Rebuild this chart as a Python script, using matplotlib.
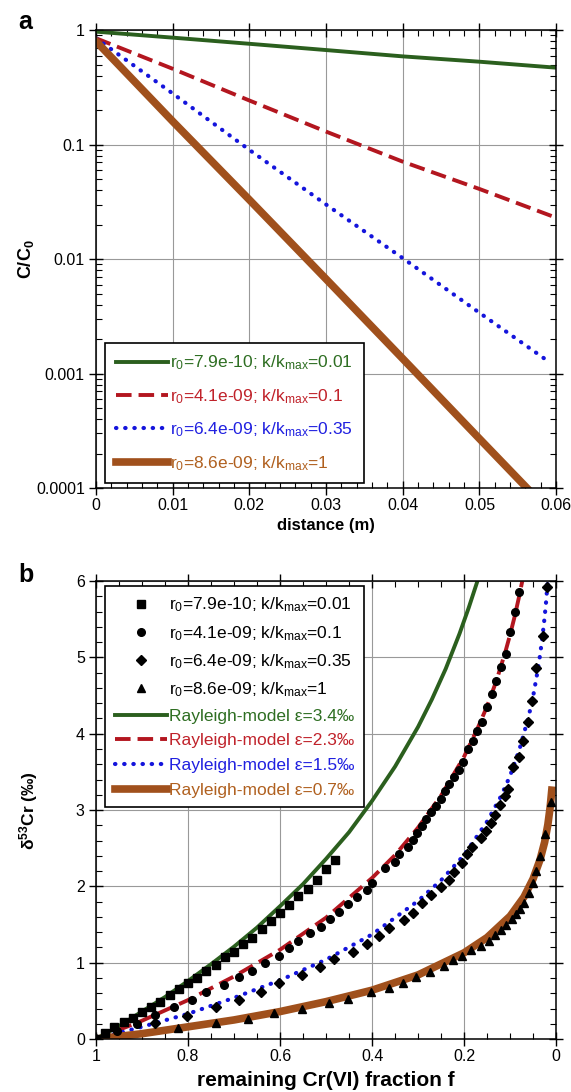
import matplotlib
matplotlib.use('Agg')
import matplotlib.pyplot as plt
from matplotlib.ticker import MultipleLocator, LogLocator, NullFormatter

plt.rcParams['font.family'] = ['Liberation Sans', 'DejaVu Sans']
plt.rcParams['mathtext.default'] = 'regular'

# ---- panel a: C/C0 vs distance (straight lines on log axis)
dist = [0, 0.01, 0.02, 0.03, 0.04, 0.05, 0.06]
c_green = [0.97, 0.86, 0.76, 0.67, 0.59, 0.53, 0.47]
c_red = [0.85, 0.46, 0.243, 0.13, 0.071, 0.041, 0.023]
dist_blue = [0, 0.01, 0.02, 0.03, 0.04, 0.05, 0.0587]
c_blue = [0.85, 0.28, 0.09, 0.03, 0.0102, 0.0034, 0.00132]
dist_brown = [0, 0.01, 0.02, 0.03, 0.04, 0.05, 0.0562]
c_brown = [0.8, 0.16, 0.033, 0.0067, 0.00135, 0.00027, 0.0001]

labels_a = [r'r$_0$=7.9e-10; k/k$_{max}$=0.01',
            r'r$_0$=4.1e-09; k/k$_{max}$=0.1',
            r'r$_0$=6.4e-09; k/k$_{max}$=0.35',
            r'r$_0$=8.6e-09; k/k$_{max}$=1']

# ---- panel b: d53Cr vs remaining fraction
f_sq = [1.0, 0.98, 0.96, 0.94, 0.92, 0.90, 0.88, 0.86, 0.84, 0.82, 0.80, 0.78, 0.76, 0.74,
        0.72, 0.70, 0.68, 0.66, 0.64, 0.62, 0.60, 0.58, 0.56, 0.54, 0.52, 0.50, 0.48]
d_sq = [0, 0.08, 0.16, 0.22, 0.28, 0.35, 0.42, 0.49, 0.58, 0.655, 0.73, 0.80, 0.89, 0.97,
        1.07, 1.145, 1.24, 1.33, 1.44, 1.54, 1.65, 1.76, 1.87, 1.97, 2.08, 2.23, 2.35]

f_ci = [1.0, 0.955, 0.910, 0.871, 0.831, 0.791, 0.760, 0.721, 0.690, 0.660, 0.632, 0.603,
        0.581, 0.561, 0.534, 0.512, 0.492, 0.472, 0.453, 0.432, 0.410, 0.400, 0.371, 0.350,
        0.342, 0.321, 0.311, 0.302, 0.292, 0.282, 0.271, 0.260, 0.251, 0.242, 0.233, 0.222,
        0.211, 0.203, 0.191, 0.181, 0.173, 0.162, 0.150, 0.140, 0.130, 0.120, 0.110, 0.101,
        0.090, 0.081]
d_ci = [0, 0.10, 0.197, 0.315, 0.415, 0.51, 0.61, 0.71, 0.81, 0.895, 1.00, 1.09,
        1.19, 1.29, 1.385, 1.47, 1.57, 1.67, 1.765, 1.865, 1.95, 2.05, 2.24, 2.32,
        2.43, 2.52, 2.61, 2.70, 2.79, 2.88, 2.97, 3.05, 3.15, 3.25, 3.34, 3.43,
        3.53, 3.63, 3.80, 3.91, 4.03, 4.15, 4.35, 4.52, 4.69, 4.88, 5.05, 5.33,
        5.59, 5.86]

f_di = [1.0, 0.871, 0.802, 0.740, 0.690, 0.642, 0.603, 0.552, 0.513, 0.483, 0.441, 0.410,
        0.384, 0.364, 0.331, 0.311, 0.292, 0.271, 0.251, 0.233, 0.223, 0.205, 0.193, 0.182,
        0.164, 0.153, 0.142, 0.133, 0.123, 0.111, 0.104, 0.094, 0.081, 0.071, 0.061, 0.053,
        0.043, 0.029, 0.020]
d_di = [0, 0.205, 0.30, 0.415, 0.51, 0.62, 0.73, 0.84, 0.94, 1.045, 1.145, 1.245,
        1.35, 1.45, 1.56, 1.655, 1.78, 1.89, 1.99, 2.08, 2.19, 2.30, 2.42, 2.52,
        2.63, 2.73, 2.83, 2.94, 3.07, 3.18, 3.27, 3.57, 3.70, 3.90, 4.15, 4.43,
        4.86, 5.28, 5.92]

f_tr = [1.0, 0.821, 0.740, 0.670, 0.612, 0.552, 0.494, 0.453, 0.403, 0.363, 0.333, 0.304,
        0.275, 0.244, 0.224, 0.204, 0.184, 0.164, 0.147, 0.132, 0.120, 0.108, 0.097, 0.088,
        0.079, 0.069, 0.060, 0.051, 0.043, 0.035, 0.025, 0.011]
d_tr = [0, 0.14, 0.205, 0.26, 0.34, 0.39, 0.47, 0.53, 0.61, 0.67, 0.74, 0.81,
        0.88, 0.96, 1.03, 1.09, 1.16, 1.22, 1.29, 1.36, 1.43, 1.50, 1.57, 1.64,
        1.70, 1.78, 1.91, 2.05, 2.20, 2.40, 2.69, 3.10]

# Rayleigh model curves
f_g = [1.0, 0.95, 0.9, 0.85, 0.8, 0.75, 0.7, 0.65, 0.6, 0.55, 0.5, 0.45, 0.4, 0.35, 0.3,
       0.27, 0.24, 0.21, 0.19, 0.171]
d_g = [0, 0.17, 0.36, 0.55, 0.76, 0.98, 1.21, 1.46, 1.74, 2.03, 2.36, 2.71, 3.12, 3.57, 4.09,
       4.45, 4.85, 5.31, 5.65, 6.0]
f_r = [1.0, 0.9, 0.8, 0.7, 0.6, 0.5, 0.4, 0.35, 0.3, 0.25, 0.2, 0.17, 0.15, 0.13, 0.11,
       0.1, 0.09, 0.08, 0.0736]
d_r = [0, 0.24, 0.51, 0.82, 1.17, 1.59, 2.11, 2.41, 2.77, 3.19, 3.70, 4.08, 4.36, 4.69, 5.08,
       5.30, 5.54, 5.81, 6.0]
f_b = [1.0, 0.9, 0.8, 0.7, 0.6, 0.5, 0.4, 0.3, 0.25, 0.2, 0.15, 0.12, 0.1, 0.08, 0.06,
       0.05, 0.04, 0.035, 0.03, 0.025, 0.022, 0.0183]
d_b = [0, 0.16, 0.33, 0.54, 0.77, 1.04, 1.37, 1.81, 2.08, 2.41, 2.85, 3.18, 3.45, 3.79, 4.22,
       4.49, 4.83, 5.03, 5.26, 5.53, 5.72, 6.0]
f_o = [1.0, 0.9, 0.8, 0.7, 0.6, 0.5, 0.4, 0.3, 0.2, 0.15, 0.1, 0.07, 0.05, 0.035, 0.025,
       0.018, 0.013, 0.0095]
d_o = [0, 0.07, 0.16, 0.25, 0.36, 0.49, 0.64, 0.84, 1.13, 1.33, 1.61, 1.86, 2.10, 2.35, 2.58,
       2.81, 3.04, 3.26]

labels_model = [u'Rayleigh-model \u03b5=3.4\u2030', u'Rayleigh-model \u03b5=2.3\u2030',
                u'Rayleigh-model \u03b5=1.5\u2030', u'Rayleigh-model \u03b5=0.7\u2030']

col_line = ['#2b5f1e', '#b3161f', '#1414dc', '#a0501c']
col_text = ['#2e6e22', '#c0222a', '#2020e0', '#b0601f']


def style_axes(ax):
	ax.grid(True, which='major', color='0.6', lw=0.8)
	ax.set_axisbelow(True)
	ax.tick_params(which='major', direction='inout', length=10, width=1,
	               top=True, right=True, labelsize=11.5)
	ax.tick_params(axis='x', which='major', pad=2)
	ax.tick_params(axis='y', which='major', pad=3)
	ax.tick_params(which='minor', direction='in', length=4, width=0.8,
	               top=True, right=True)
	for s in ax.spines.values():
		s.set_linewidth(1.1)


fig = plt.figure(figsize=(5.71, 10.92), dpi=100)

# ---------------- panel a
ax = fig.add_axes([0.168, 0.553, 0.806, 0.4194])
ax.plot(dist, c_green, color=col_line[0], lw=2.8, label=labels_a[0])
ax.plot(dist, c_red, color=col_line[1], lw=2.8, dashes=(4, 1.8), label=labels_a[1])
ax.plot(dist_blue, c_blue, color=col_line[2], lw=3, dashes=(0.1, 2.1),
        dash_capstyle='round', label=labels_a[2])
ax.plot(dist_brown, c_brown, color=col_line[3], lw=5.5, label=labels_a[3])
ax.set_yscale('log')
ax.set_xlim(0, 0.06)
ax.set_ylim(1e-4, 1)
ax.set_xticks([0, 0.01, 0.02, 0.03, 0.04, 0.05, 0.06])
ax.set_xticklabels(['0', '0.01', '0.02', '0.03', '0.04', '0.05', '0.06'])
ax.xaxis.set_minor_locator(MultipleLocator(0.002))
ax.set_yticks([1e-4, 1e-3, 1e-2, 0.1, 1])
ax.set_yticklabels(['0.0001', '0.001', '0.01', '0.1', '1'])
ax.yaxis.set_minor_locator(LogLocator(base=10, subs=range(2, 10)))
ax.yaxis.set_minor_formatter(NullFormatter())
style_axes(ax)
ax.set_xlabel('distance (m)', fontsize=12, fontweight='bold', labelpad=4)
ax.set_ylabel('C/C$_0$', fontsize=13, fontweight='bold')
ax.yaxis.set_label_coords(-0.13, 0.5)
leg = ax.legend(loc='lower left', bbox_to_anchor=(0.02, 0.011), borderaxespad=0,
                fontsize=12.5, handlelength=3.0, handletextpad=0.15, labelspacing=0.85,
                borderpad=0.6, fancybox=False, edgecolor='black', framealpha=1)
leg.get_frame().set_linewidth(1.2)
for t, c in zip(leg.get_texts(), col_text):
	t.set_color(c)

# ---------------- panel b
bx = fig.add_axes([0.168, 0.0485, 0.806, 0.4194])
h_lines = []
h_lines.append(bx.plot(f_g, d_g, color=col_line[0], lw=2.8, label=labels_model[0])[0])
h_lines.append(bx.plot(f_r, d_r, color=col_line[1], lw=2.8, dashes=(4, 1.8),
                       label=labels_model[1])[0])
h_lines.append(bx.plot(f_b, d_b, color=col_line[2], lw=3, dashes=(0.1, 2.1),
                       dash_capstyle='round', label=labels_model[2])[0])
h_lines.append(bx.plot(f_o, d_o, color=col_line[3], lw=5.5, label=labels_model[3])[0])
h_pts = []
h_pts.append(bx.plot(f_sq, d_sq, 's', color='black', ms=5.5, ls='none', label=labels_a[0])[0])
h_pts.append(bx.plot(f_ci, d_ci, 'o', color='black', ms=5.5, ls='none', label=labels_a[1])[0])
h_pts.append(bx.plot(f_di, d_di, 'D', color='black', ms=5.2, ls='none', label=labels_a[2])[0])
h_pts.append(bx.plot(f_tr, d_tr, '^', color='black', ms=6.2, ls='none', label=labels_a[3])[0])
bx.set_xlim(1, 0)
bx.set_ylim(0, 6)
bx.set_xticks([1, 0.8, 0.6, 0.4, 0.2, 0])
bx.set_xticklabels(['1', '0.8', '0.6', '0.4', '0.2', '0'])
bx.xaxis.set_minor_locator(MultipleLocator(0.05))
bx.set_yticks([0, 1, 2, 3, 4, 5, 6])
bx.yaxis.set_minor_locator(MultipleLocator(0.2))
style_axes(bx)
bx.set_xlabel('remaining Cr(VI) fraction f', fontsize=15, fontweight='bold', labelpad=5)
bx.set_ylabel(u'\u03b4$^{53}$Cr (\u2030)', fontsize=12.5, fontweight='bold')
bx.yaxis.set_label_coords(-0.122, 0.5)
leg = bx.legend(h_pts + h_lines, labels_a + labels_model, loc='upper left',
                bbox_to_anchor=(0.02, 0.989), borderaxespad=0, numpoints=1,
                fontsize=12.5, handlelength=3.0, handletextpad=0.15, labelspacing=0.55,
                borderpad=0.55, fancybox=False, edgecolor='black', framealpha=1)
leg.get_frame().set_linewidth(1.2)
for t, c in zip(leg.get_texts(), ['black'] * 4 + col_text):
	t.set_color(c)

fig.text(25 / 571, 1 - 22 / 1092, 'a', fontsize=18, fontweight='bold', ha='center', va='center')
fig.text(26 / 571, 1 - 575 / 1092, 'b', fontsize=18, fontweight='bold', ha='center', va='center')

plt.savefig('out.png', dpi=100)
